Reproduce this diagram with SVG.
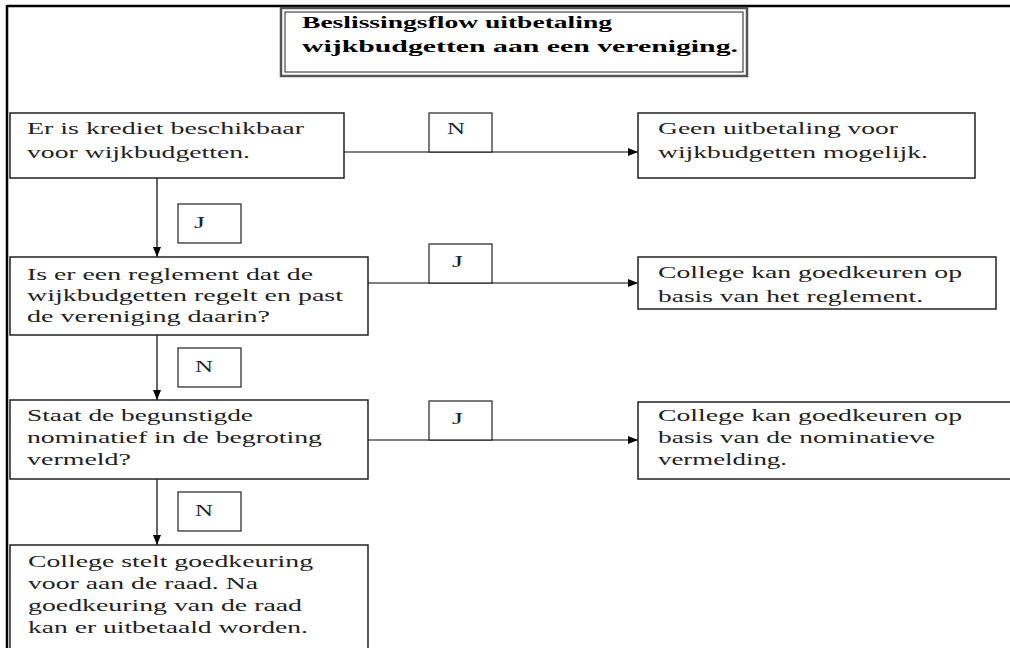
<svg xmlns="http://www.w3.org/2000/svg" width="1010" height="648" viewBox="0 0 1010 648">
<defs>
<marker id="arr" markerUnits="userSpaceOnUse" markerWidth="11" markerHeight="8" refX="10" refY="4" orient="auto">
<path d="M0,0 L10,4 L0,8 z" fill="#000"/>
</marker>
<style>
.box{fill:#fff;stroke:#222;stroke-width:1.5}
.lbl{fill:#fff;stroke:#222;stroke-width:1.2}
.t{font-family:'Liberation Serif','Times New Roman',serif;font-size:16px;fill:#222}
.tb{font-family:'Liberation Serif','Times New Roman',serif;font-size:16px;font-weight:bold;fill:#000}
.c{stroke:#000;stroke-width:1.2;fill:none}
</style>
</defs>
<rect x="0" y="0" width="1010" height="648" fill="#fff"/>
<g id="frame">
<line x1="7" y1="6" x2="1010" y2="6" stroke="#000" stroke-width="2.5"/>
<line x1="7" y1="5" x2="7" y2="648" stroke="#000" stroke-width="2.5"/>
</g>
<g id="title">
<rect x="281" y="8" width="466" height="68" fill="#fff" stroke="#555" stroke-width="2.5"/>
<rect x="285" y="12" width="458" height="60" fill="none" stroke="#222" stroke-width="1"/>
<text class="tb" x="302" y="28" textLength="310" lengthAdjust="spacingAndGlyphs">Beslissingsflow uitbetaling</text>
<text class="tb" x="302" y="52" textLength="436" lengthAdjust="spacingAndGlyphs">wijkbudgetten aan een vereniging.</text>
</g>
<g id="connectors">
<line class="c" x1="344" y1="152" x2="638" y2="152" marker-end="url(#arr)"/>
<line class="c" x1="368" y1="283" x2="638" y2="283" marker-end="url(#arr)"/>
<line class="c" x1="368" y1="440" x2="638" y2="440" marker-end="url(#arr)"/>
<line class="c" x1="157" y1="178" x2="157" y2="257" marker-end="url(#arr)"/>
<line class="c" x1="157" y1="335" x2="157" y2="400" marker-end="url(#arr)"/>
<line class="c" x1="157" y1="479" x2="157" y2="545" marker-end="url(#arr)"/>
<g id="lbl1"><rect class="lbl" x="429" y="113" width="63" height="39"/><text class="t" x="447" y="134" textLength="18" lengthAdjust="spacingAndGlyphs">N</text></g>
<g id="lbl2"><rect class="lbl" x="429" y="244" width="63" height="39"/><text class="t" x="452" y="267" textLength="11" lengthAdjust="spacingAndGlyphs">J</text></g>
<g id="lbl3"><rect class="lbl" x="429" y="401" width="63" height="39"/><text class="t" x="452" y="424" textLength="11" lengthAdjust="spacingAndGlyphs">J</text></g>
<g id="lbl4"><rect class="lbl" x="178" y="204" width="63" height="39"/><text class="t" x="194" y="228" textLength="11" lengthAdjust="spacingAndGlyphs">J</text></g>
<g id="lbl5"><rect class="lbl" x="178" y="348" width="63" height="39"/><text class="t" x="195" y="372" textLength="18" lengthAdjust="spacingAndGlyphs">N</text></g>
<g id="lbl6"><rect class="lbl" x="178" y="492" width="63" height="39"/><text class="t" x="195" y="516" textLength="18" lengthAdjust="spacingAndGlyphs">N</text></g>
</g>
<g id="q1">
<rect class="box" x="10" y="113" width="334" height="65"/>
<text class="t" x="27" y="134" textLength="277" lengthAdjust="spacingAndGlyphs">Er is krediet beschikbaar</text>
<text class="t" x="27" y="158" textLength="223" lengthAdjust="spacingAndGlyphs">voor wijkbudgetten.</text>
</g>
<g id="q2">
<rect class="box" x="10" y="257" width="358" height="78"/>
<text class="t" x="27" y="280" textLength="286" lengthAdjust="spacingAndGlyphs">Is er een reglement dat de</text>
<text class="t" x="27" y="301" textLength="316" lengthAdjust="spacingAndGlyphs">wijkbudgetten regelt en past</text>
<text class="t" x="27" y="322" textLength="243" lengthAdjust="spacingAndGlyphs">de vereniging daarin?</text>
</g>
<g id="q3">
<rect class="box" x="10" y="400" width="358" height="79"/>
<text class="t" x="27" y="421" textLength="226" lengthAdjust="spacingAndGlyphs">Staat de begunstigde</text>
<text class="t" x="27" y="443" textLength="295" lengthAdjust="spacingAndGlyphs">nominatief in de begroting</text>
<text class="t" x="27" y="465" textLength="104" lengthAdjust="spacingAndGlyphs">vermeld?</text>
</g>
<g id="end4">
<rect class="box" x="10" y="545" width="358" height="120"/>
<text class="t" x="28" y="567" textLength="285" lengthAdjust="spacingAndGlyphs">College stelt goedkeuring</text>
<text class="t" x="28" y="589" textLength="230" lengthAdjust="spacingAndGlyphs">voor aan de raad. Na</text>
<text class="t" x="28" y="611" textLength="274" lengthAdjust="spacingAndGlyphs">goedkeuring van de raad</text>
<text class="t" x="28" y="633" textLength="280" lengthAdjust="spacingAndGlyphs">kan er uitbetaald worden.</text>
</g>
<g id="end1">
<rect class="box" x="638" y="113" width="337" height="65"/>
<text class="t" x="658" y="134" textLength="240" lengthAdjust="spacingAndGlyphs">Geen uitbetaling voor</text>
<text class="t" x="658" y="158" textLength="270" lengthAdjust="spacingAndGlyphs">wijkbudgetten mogelijk.</text>
</g>
<g id="end2">
<rect class="box" x="638" y="257" width="358" height="52"/>
<text class="t" x="658" y="278" textLength="304" lengthAdjust="spacingAndGlyphs">College kan goedkeuren op</text>
<text class="t" x="658" y="302" textLength="265" lengthAdjust="spacingAndGlyphs">basis van het reglement.</text>
</g>
<g id="end3">
<rect class="box" x="638" y="402" width="390" height="77"/>
<text class="t" x="658" y="421" textLength="304" lengthAdjust="spacingAndGlyphs">College kan goedkeuren op</text>
<text class="t" x="658" y="443" textLength="277" lengthAdjust="spacingAndGlyphs">basis van de nominatieve</text>
<text class="t" x="658" y="465" textLength="129" lengthAdjust="spacingAndGlyphs">vermelding.</text>
</g>
</svg>
